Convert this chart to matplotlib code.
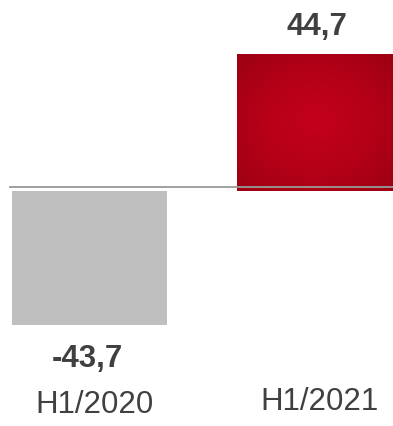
import numpy as np
import matplotlib
matplotlib.use("Agg")
import matplotlib.pyplot as plt
from matplotlib.colors import LinearSegmentedColormap

categories = ["H1/2020", "H1/2021"]
values = [-43.7, 44.7]
value_labels = ["-43,7", "44,7"]

plt.rcParams['font.family'] = ['Liberation Sans', 'DejaVu Sans']

W, H = 393, 427
fig = plt.figure(figsize=(W / 100, H / 100), dpi=100)
ax = fig.add_axes([0, 0, 1, 1])
ax.set_axis_off()

scale = 3.065  # px per unit
zero_px = 192
ax.set_ylim((zero_px - H) / scale, zero_px / scale)
unit = 225.5
ax.set_xlim(-89.5 / unit, (W - 89.5) / unit)

x = np.arange(len(categories))
bars = ax.bar(x, values, width=0.69, color=["#bfbfbf", "none"], zorder=2)

# radial gradient for the positive bar
red_bar = bars[1]
x0, y0 = red_bar.get_x(), red_bar.get_y()
w, h = red_bar.get_width(), red_bar.get_height()
gx, gy = np.meshgrid(np.linspace(-1, 1, 200), np.linspace(-1, 1, 200))
r = np.clip(np.sqrt(gx ** 2 + gy ** 2) / np.sqrt(2), 0, 1)
cmap = LinearSegmentedColormap.from_list("rg", ["#c4001c", "#b50018", "#9c0012"])
im = ax.imshow(r, cmap=cmap, extent=[x0, x0 + w, y0, y0 + h], aspect="auto",
               interpolation="bilinear", zorder=2)
im.set_clip_path(red_bar)

ax.axhline(1.3, xmin=10 / W, xmax=1, color="#999999", lw=1.3, zorder=3)

label_dx = [-0.01, 0.01]
for i, (v, lab) in enumerate(zip(values, value_labels)):
    off = 9.1 if v > 0 else -10.7
    ax.text(i + label_dx[i], v + off, lab, ha="center", va="center", fontsize=22.5,
            fontweight="bold", color="#404040")

cat_y = [-69.6, -68.6]
for i, (c, cy) in enumerate(zip(categories, cat_y)):
    ax.text(i + 0.02, cy, c, ha="center", va="center", fontsize=22.5,
            color="#404040")

fig.savefig("out.png", dpi=100)
